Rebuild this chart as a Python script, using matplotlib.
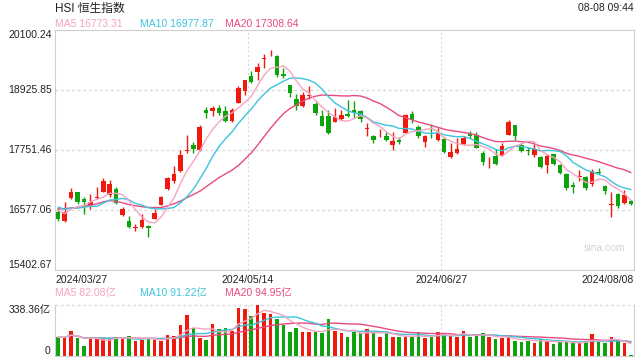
import matplotlib
matplotlib.use("Agg")
import matplotlib.pyplot as plt
import matplotlib.transforms as mtransforms
import numpy as np
import pandas as pd

plt.rcParams["font.family"] = ["Liberation Sans", "Noto Sans CJK SC", "DejaVu Sans"]

# ============================================================
# Data (HSI daily, 2024/03/27 - 2024/08/08), volume in 亿
# ============================================================

# closes of the 19 sessions before the window, only used to start the MAs
prior_close = [16511.44, 16589.44, 16595.97, 16162.64, 16438.09, 16229.78, 16353.39,
               16587.92, 17093.50, 17082.11, 16961.57, 16720.89, 16737.12, 16529.48,
               16543.07, 16863.10, 16499.47, 16473.64, 16618.32]

open_ = [16544, 16369, 16818, 16922, 16792, 16680, 16810, 16935, 16870, 16980,
         16480, 16370, 16225, 16250, 16260, 16410, 16680, 16985, 17145, 17340,
         17730, 17850, 17760, 18530, 18510, 18580, 18510, 18320, 18678, 18900,
         19200, 19270, 19540, 19625, 19600, 19230, 19023, 18747, 18620, 18810,
         18653, 18417, 18417, 18306, 18358, 18460, 18530, 18510, 18160, 18030,
         18100, 18020, 17850, 17940, 18080, 18458, 18210, 17914, 18090, 17950,
         17963, 17612, 17684, 17860, 18060, 18044, 17697, 17510, 17632, 17640,
         18044, 18232, 17840, 17760, 17649, 17617, 17454, 17669, 17454, 17285,
         17060, 17220, 17220, 17090, 17320, 17040, 16680, 16890, 16705, 16760]

high = [16610, 16740, 17014, 16935, 16837, 16900, 17020, 17200, 17164, 17030,
        16640, 16460, 16300, 16500, 16275, 16590, 16850, 17230, 17438, 17749,
        18050, 17905, 18240, 18590, 18620, 18640, 18610, 18570, 19005, 19130,
        19303, 19449, 19630, 19706, 19610, 19350, 19030, 18857, 18885, 19004,
        18700, 18534, 18540, 18566, 18534, 18730, 18710, 18530, 18273, 18050,
        18170, 18100, 18110, 18000, 18450, 18523, 18240, 18040, 18257, 18175,
        18008, 17880, 17978, 18020, 18130, 18110, 17740, 17610, 17776, 17880,
        18330, 18250, 17880, 17810, 17874, 17630, 17682, 17682, 17480, 17305,
        17118, 17355, 17250, 17387, 17400, 17060, 16923, 16910, 16966, 16770]

low = [16369, 16349, 16800, 16700, 16492, 16600, 16790, 16920, 16838, 16700,
       16465, 16220, 16170, 16225, 16045, 16400, 16670, 16970, 17112, 17330,
       17700, 17700, 17740, 18380, 18410, 18440, 18300, 18290, 18665, 18830,
       19060, 19121, 19360, 19592, 19190, 19160, 18795, 18534, 18600, 18743,
       18430, 18225, 18070, 18290, 18345, 18390, 18380, 18300, 18020, 17880,
       18010, 17930, 17753, 17860, 18078, 18280, 17990, 17805, 17990, 17930,
       17685, 17600, 17670, 17845, 17990, 17790, 17466, 17400, 17460, 17630,
       18040, 17950, 17710, 17660, 17617, 17405, 17306, 17450, 17285, 16970,
       16902, 17140, 16970, 17050, 17280, 16888, 16434, 16620, 16690, 16670]

close = [16392.84, 16541.42, 16931.52, 16725.10, 16723.92, 16732.85, 16828.07, 17139.17,
         17095.03, 16721.69, 16600.46, 16248.97, 16251.84, 16385.87, 16224.14, 16511.69,
         16828.93, 17201.27, 17284.54, 17651.15, 17746.91, 17763.03, 18207.13, 18475.92,
         18578.30, 18479.37, 18313.86, 18537.81, 18963.68, 19115.06, 19073.71, 19376.53,
         19553.61, 19636.22, 19220.62, 19195.60, 18868.71, 18608.94, 18827.35, 18821.16,
         18477.01, 18230.19, 18079.61, 18403.04, 18444.11, 18424.21, 18475.48, 18366.95,
         18176.34, 17937.84, 18112.63, 17941.78, 17936.12, 17915.55, 18430.39, 18335.32,
         18028.52, 18027.71, 18072.90, 18089.93, 17716.47, 17718.61, 17769.14, 17978.57,
         18028.28, 17799.61, 17524.06, 17523.23, 17471.67, 17832.33, 18293.38, 18015.94,
         17727.98, 17739.41, 17778.41, 17417.68, 17635.88, 17469.36, 17311.05, 17004.95,
         17021.31, 17238.34, 17002.91, 17344.60, 17304.96, 16945.51, 16698.36, 16647.34,
         16877.86, 16697.48]

volume = [124, 124, 165, 117, 68, 117, 117, 113, 110, 129,
          120, 133, 101, 108, 117, 108, 101, 142, 133, 203,
          271, 185, 122, 108, 212, 176, 183, 169, 318, 311,
          264, 338.36, 287, 280, 244, 203, 162, 183, 162, 158,
          158, 151, 244, 169, 151, 129, 158, 151, 180, 158,
          124, 151, 124, 129, 129, 124, 156, 117, 124, 158,
          151, 133, 129, 165, 124, 135, 151, 124, 111, 117,
          124, 97, 96, 101, 89, 113, 97, 82, 90, 97.8,
          83, 84, 102, 142.8, 90, 88, 128, 100, 88.4, 6]

date_labels = ["2024/03/27", "2024/05/14", "2024/06/27", "2024/08/08"]
date_label_index = [0, 30, 60, 90]

price_ticks = [15402.67, 16577.06, 17751.46, 18925.85, 20100.24]
vol_max = 338.36

# ============================================================
# Moving averages
# ============================================================

all_close = pd.Series(prior_close + close)
ma_price = {n: all_close.rolling(n).mean().to_numpy()[len(prior_close):] for n in (5, 10, 20)}
vol_s = pd.Series(volume)
ma_vol = {n: vol_s.rolling(n, min_periods=1).mean().to_numpy() for n in (5, 10, 20)}

RED = "#f0190d"
GREEN = "#0ca30c"
MA_COLORS = {5: "#f6a3c0", 10: "#3cc4dc", 20: "#e84a80"}
GRID = "#d9d9d9"
FRAME = "#cfcfcf"
TEXT = "#222222"
FS = 7.5

o = np.array(open_, dtype=float)
c = np.array(close, dtype=float)
h = np.array(high, dtype=float)
l = np.array(low, dtype=float)
v = np.array(volume, dtype=float)
x = np.arange(len(c)) + 0.5
colors = [RED if cc >= oo else GREEN for oo, cc in zip(o, c)]

# ============================================================
# Figure
# ============================================================

fig = plt.figure(figsize=(6.4, 3.6), dpi=100)
L, W = 55 / 640, 579 / 640
ax = fig.add_axes([L, 90 / 360, W, 240 / 360])
axv = fig.add_axes([L, 4 / 360, W, 51 / 360])

for a in (ax, axv):
    a.set_xlim(0, len(c))
    a.set_xticks([])
    a.set_yticks([])
    for s in a.spines.values():
        s.set_color(FRAME)
        s.set_linewidth(0.8)
    for xi in date_label_index[1:-1]:
        a.axvline(xi, color=GRID, lw=0.8, ls=(0, (2, 2)), zorder=0)

# price panel
ax.set_ylim(price_ticks[0], price_ticks[-1])
for t in price_ticks[1:-1]:
    ax.axhline(t, color=GRID, lw=1.0, ls=(0, (2, 2)), zorder=0)

body_h = np.maximum(np.abs(c - o), 12)
ax.vlines(x, l, h, colors=colors, lw=1.0, zorder=2)
ax.bar(x, body_h, bottom=np.minimum(o, c), width=0.7, color=colors, lw=0, zorder=3)

for n in (20, 10, 5):
    ax.plot(x, ma_price[n], color=MA_COLORS[n], lw=1.0, zorder=4)

ytr = mtransforms.blended_transform_factory(ax.transAxes, ax.transData)
for i, t in enumerate(price_ticks):
    va = "bottom" if i == 0 else ("top" if i == len(price_ticks) - 1 else "center")
    ax.text(-0.006, t, f"{t:.2f}", transform=ytr, ha="right", va=va, fontsize=FS, color=TEXT)

xtr = mtransforms.blended_transform_factory(ax.transData, ax.transAxes)
for i, (xi, lab) in enumerate(zip(date_label_index, date_labels)):
    ha = "left" if i == 0 else ("right" if i == len(date_labels) - 1 else "center")
    ax.text(xi, -0.02, lab, transform=xtr, ha=ha, va="top", fontsize=FS, color=TEXT)

ax.text(0.985, 0.09, "sina.com", transform=ax.transAxes, ha="right", va="center",
        fontsize=7.5, color="#d2d2d2")

# volume panel
axv.set_ylim(0, vol_max)
axv.spines["top"].set_visible(False)
axv.axhline(vol_max, color=GRID, lw=1.0, ls=(0, (2, 2)), zorder=0, clip_on=False)
axv.bar(x, v, width=0.55, color=colors, lw=0, zorder=2)
for n in (20, 10, 5):
    axv.plot(x, ma_vol[n], color=MA_COLORS[n], lw=1.0, zorder=3)

vtr = mtransforms.blended_transform_factory(axv.transAxes, axv.transData)
axv.text(-0.008, vol_max, f"{vol_max:.2f}亿", transform=vtr, ha="right", va="top",
         fontsize=FS, color=TEXT)
axv.text(-0.008, 0, "0", transform=vtr, ha="right", va="bottom", fontsize=FS, color=TEXT)

# headers and legends
fig.text(L, 1 - 9 / 360, "HSI 恒生指数", ha="left", va="center", fontsize=8.5, color=TEXT)
fig.text(634 / 640, 1 - 8 / 360, "08-08 09:44", ha="right", va="center", fontsize=FS, color=TEXT)

legend_x = [55, 140, 225]
for lx, n in zip(legend_x, (5, 10, 20)):
    fig.text(lx / 640, 1 - 24 / 360, f"MA{n} {ma_price[n][-1]:.2f}", ha="left", va="center",
             fontsize=FS, color=MA_COLORS[n])
    fig.text(lx / 640, 1 - 293 / 360, f"MA{n} {ma_vol[n][-1]:.2f}亿", ha="left", va="center",
             fontsize=FS, color=MA_COLORS[n])

fig.savefig("out.png", dpi=100, facecolor="white")
